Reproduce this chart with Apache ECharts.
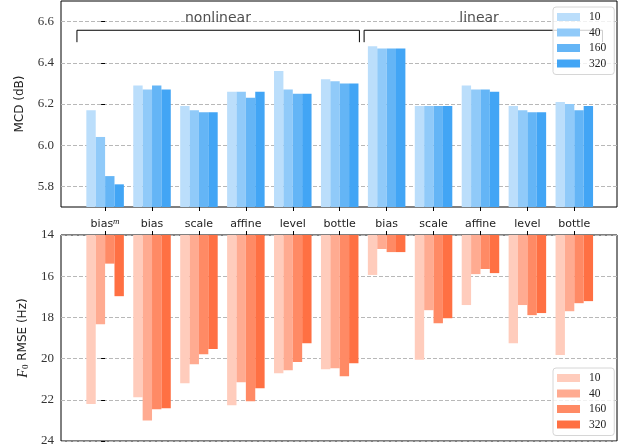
<!DOCTYPE html>
<html>
<head>
<meta charset="utf-8">
<script src="https://cdn.jsdelivr.net/npm/echarts@6/dist/echarts.min.js"></script>
<style>html,body{margin:0;padding:0;background:#fff;}#c{width:623px;height:448px;}</style>
</head>
<body>
<div id="c"></div>
<script>
const categories = ['bias^m','bias','scale','affine','level','bottle','bias','scale','affine','level','bottle'];
const seriesNames = ['10','40','160','320'];
const mcd10  = [6.17,6.29,6.19,6.26,6.36,6.32,6.48,6.19,6.29,6.19,6.21];
const mcd40  = [6.04,6.27,6.17,6.26,6.27,6.31,6.47,6.19,6.27,6.17,6.20];
const mcd160 = [5.85,6.29,6.16,6.23,6.25,6.30,6.47,6.19,6.27,6.16,6.17];
const mcd320 = [5.81,6.27,6.16,6.26,6.25,6.30,6.47,6.19,6.26,6.16,6.19];
const f0_10  = [22.20,21.88,21.20,22.27,20.71,20.52,15.94,20.06,17.40,19.25,19.83];
const f0_40  = [18.33,23.00,20.27,21.15,20.56,20.47,14.68,17.65,15.90,17.40,17.70];
const f0_160 = [15.39,22.46,19.79,22.07,20.17,20.86,14.83,18.28,15.65,17.89,17.31];
const f0_320 = [16.97,22.41,19.54,21.44,19.25,20.22,14.83,18.04,15.85,17.79,17.21];
const mcdTicks = [5.8,6.0,6.2,6.4,6.6];
const f0Ticks = [14,16,18,20,22,24];
const groupLabels = ['nonlinear','linear'];
const groupCenters = [[2.405,6.616],[7.97,6.616]];
const brackets = [
  [[-0.6,6.5],[-0.6,6.558],[5.42,6.558],[5.42,6.5]],
  [[5.52,6.5],[5.52,6.558],[10.6,6.558],[10.6,6.5]]
];

const blues = ['#BBDEFB','#90CAF9','#64B5F6','#42A5F5'];
const oranges = ['#FFCCBC','#FFAB91','#FF8A65','#FF7043'];
const catIdx = categories.map((c,i)=>i);
const serif = 'Liberation Serif';
const sans = 'DejaVu Sans';
const XMIN = -0.94, XMAX = 10.91;
const BW = 9.38;

function pairs(arr){ return arr.map((v,i)=>[i,v]); }

const mcdData = [mcd10,mcd40,mcd160,mcd320];
const f0Data = [f0_10,f0_40,f0_160,f0_320];

const series = [];
seriesNames.forEach((n,k)=>{
  series.push({
    type:'bar', name:n, xAxisIndex:0, yAxisIndex:0,
    data: pairs(mcdData[k]), barWidth: BW, barGap:'0%',
    itemStyle:{color:blues[k]}, clip:true, z:2
  });
});
seriesNames.forEach((n,k)=>{
  series.push({
    type:'bar', name:'F'+n, xAxisIndex:1, yAxisIndex:1,
    data: pairs(f0Data[k]), barWidth: BW, barGap:'0%',
    itemStyle:{color:oranges[k]}, clip:true, z:2
  });
});
brackets.forEach(b=>{
  series.push({
    type:'line', xAxisIndex:0, yAxisIndex:0, data:b, symbol:'none', silent:true,
    lineStyle:{color:'#000', width:1}, z:3, animation:false
  });
});
series.push({
  type:'scatter', xAxisIndex:0, yAxisIndex:0, symbolSize:0, silent:true,
  data: groupCenters.map((p,i)=>({value:p, name:groupLabels[i]})),
  label:{show:true, position:'inside', formatter:p=>p.name, fontFamily:sans, fontSize:14, color:'#222'},
  z:4
});

const legendCommon = {
  orient:'vertical', left:553, itemWidth:23, itemHeight:8, itemGap:3.5,
  icon:'rect', padding:[4,8,5,4],
  backgroundColor:'rgba(255,255,255,0.8)', borderColor:'#d6d6d6', borderWidth:1, borderRadius:3,
  textStyle:{fontFamily:serif, fontSize:11.5, color:'#222', lineHeight:12, padding:[0,0,0,4]},
  selectedMode:false
};

const option = {
  animation:false,
  backgroundColor:'#fff',
  legend:[
    Object.assign({}, legendCommon, {top:7, data:seriesNames}),
    Object.assign({}, legendCommon, {top:368, data:seriesNames.map(n=>'F'+n), formatter:n=>n.slice(1)})
  ],
  grid:[
    {left:61, right:6, top:1, height:206, show:true, borderColor:'#000', borderWidth:1},
    {left:61, right:6, top:235, height:206, show:true, borderColor:'#000', borderWidth:1}
  ],
  xAxis:[
    {type:'value', gridIndex:0, min:XMIN, max:XMAX, position:'bottom',
     axisLine:{show:false}, splitLine:{show:false},
     axisTick:{show:true, inside:false, length:4, lineStyle:{color:'#000'}, customValues:catIdx},
     axisLabel:{show:true, margin:10, customValues:catIdx, color:'#222', fontFamily:sans, fontSize:11,
       formatter:v=>{const c=categories[Math.round(v)]; return c==='bias^m' ? '{a|bias}{s|m}' : '{a|'+c+'}';},
       rich:{a:{fontFamily:sans, fontSize:11, color:'#222', lineHeight:14}, s:{fontFamily:serif, fontStyle:'italic', fontSize:9, color:'#222', verticalAlign:'top', lineHeight:14, padding:[0,0,7,0]}}}
    },
    {type:'value', gridIndex:1, min:XMIN, max:XMAX, position:'top',
     axisLine:{show:false}, splitLine:{show:false},
     axisTick:{show:true, inside:false, length:4, lineStyle:{color:'#000'}, customValues:catIdx},
     axisLabel:{show:false}
    }
  ],
  yAxis:[
    {type:'value', gridIndex:0, min:5.7, max:6.7,
     axisLine:{show:false},
     axisTick:{show:true, inside:false, length:4, lineStyle:{color:'#000'}, customValues:mcdTicks},
     axisLabel:{customValues:mcdTicks, formatter:v=>v.toFixed(1), fontFamily:serif, fontSize:13, color:'#333', margin:7},
     splitLine:{show:true, lineStyle:{color:'#b8b8b8', type:[4,2], width:1}},
     name:'MCD (dB)', nameLocation:'middle', nameGap:35,
     nameTextStyle:{fontFamily:sans, fontSize:12, color:'#222'}
    },
    {type:'value', gridIndex:1, min:14, max:24, interval:2, inverse:true,
     axisLine:{show:false},
     axisTick:{show:true, inside:false, length:4, lineStyle:{color:'#000'}},
     axisLabel:{formatter:v=>String(v), fontFamily:serif, fontSize:13, color:'#333', margin:7},
     splitLine:{show:true, lineStyle:{color:'#b8b8b8', type:[4,2], width:1}},
     name:'{i|F}{s|0} RMSE (Hz)', nameLocation:'middle', nameGap:31,
     nameTextStyle:{fontFamily:sans, fontSize:12, color:'#222',
       rich:{i:{fontFamily:serif, fontStyle:'italic', fontSize:14, color:'#222'},
             s:{fontFamily:serif, fontSize:9, color:'#222', verticalAlign:'bottom'}}}
    }
  ],
  series: series
};

const chart = echarts.init(document.getElementById('c'), null, {renderer:'canvas'});
chart.setOption(option);
</script>
</body>
</html>
